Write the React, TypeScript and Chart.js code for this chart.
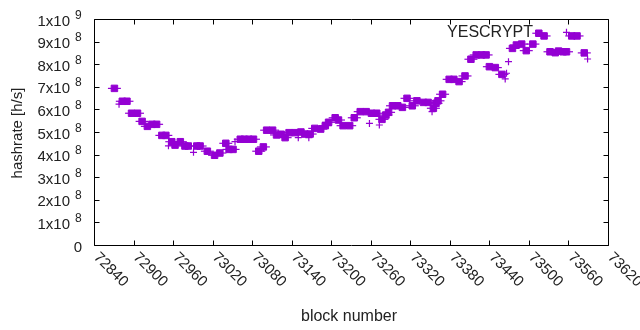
import React, { useEffect, useRef } from 'react';
import { Chart, registerables } from 'chart.js';

Chart.register(...registerables);

// ---- data ----
const squareBlocks = [
  72871, 72883, 72890, 72897, 72906, 72913, 72921, 72928, 72935, 72943,
  72949, 72958, 72963, 72971, 72978, 72983, 72996, 73001, 73012, 73023,
  73031, 73040, 73045, 73051, 73062, 73068, 73075, 73082, 73090, 73097,
  73102, 73111, 73117, 73124, 73130, 73136, 73145, 73154, 73160, 73168,
  73175, 73184, 73191, 73196, 73206, 73211, 73218, 73228, 73235, 73244,
  73253, 73261, 73269, 73277, 73283, 73287, 73293, 73301, 73308, 73315,
  73323, 73330, 73340, 73347, 73355, 73359, 73362, 73369, 73379, 73386,
  73394, 73403, 73412, 73420, 73428, 73435, 73440, 73449, 73459, 73475,
  73481, 73489, 73496, 73506, 73515, 73523, 73532, 73540, 73545, 73552,
  73557, 73565, 73573, 73584,
];
const squareRates = [
  6.93, 6.36, 6.36, 5.83, 5.83, 5.47, 5.25, 5.34, 5.34, 4.85,
  4.85, 4.57, 4.42, 4.57, 4.38, 4.38, 4.38, 4.38, 4.15, 3.97,
  4.07, 4.50, 4.23, 4.23, 4.68, 4.68, 4.68, 4.68, 4.15, 4.34,
  5.08, 5.08, 4.87, 4.90, 4.75, 4.97, 4.97, 5.00, 4.91, 4.91,
  5.16, 5.13, 5.28, 5.43, 5.63, 5.53, 5.28, 5.28, 5.63, 5.90,
  5.90, 5.83, 5.83, 5.56, 5.75, 5.87, 6.16, 6.16, 6.09, 6.49,
  6.16, 6.38, 6.31, 6.31, 6.05, 6.27, 6.38, 6.67, 7.33, 7.33,
  7.23, 7.48, 8.22, 8.41, 8.41, 8.41, 7.89, 7.85, 7.55, 8.70,
  8.85, 8.89, 8.60, 8.89, 9.37, 9.25, 8.55, 8.51, 8.58, 8.55,
  8.55, 9.25, 9.25, 8.50,
].map((v) => v * 1e8);

const plusBlocks = [
  72878, 72953, 72991, 73054, 73097, 73150, 73166, 73258, 73273, 73353,
  73464, 73466, 73469, 73557, 73589,
];
const plusRates = [
  6.23, 4.39, 4.10, 4.57, 4.28, 4.75, 4.75, 5.38, 5.31, 5.90,
  7.35, 7.60, 8.11, 9.41, 8.23,
].map((v) => v * 1e8);

const xTicks = [72840, 72900, 72960, 73020, 73080, 73140, 73200, 73260, 73320, 73380, 73440, 73500, 73560, 73620];
const yTicks = [0, 1e8, 2e8, 3e8, 4e8, 5e8, 6e8, 7e8, 8e8, 9e8, 1e9];

const seriesName = 'YESCRYPT';
const xTitle = 'block number';
const yTitle = 'hashrate [h/s]';
const COLOR = '#9400d3';
const FONT = "'Liberation Sans', Arial, sans-serif";

function toPoints(xs: number[], ys: number[]) {
  return xs.map((x, i) => ({ x, y: ys[i] }));
}

const framePlugin = {
  id: 'gnuplotFrame',
  afterDraw(chart: any) {
    const ctx = chart.ctx as CanvasRenderingContext2D;
    const area = chart.chartArea;
    const xs = chart.scales.x;
    const ys = chart.scales.y;
    const L = Math.round(area.left) + 0.5;
    const R = Math.round(area.right) + 0.5;
    const T = Math.round(area.top) + 0.5;
    const B = Math.round(area.bottom) + 0.5;
    ctx.save();
    ctx.strokeStyle = '#000';
    ctx.lineWidth = 1;
    ctx.beginPath();
    ctx.rect(L, T, R - L, B - T);
    ctx.stroke();
    const tl = 5;
    ctx.beginPath();
    xTicks.forEach((t) => {
      const px = Math.round(xs.getPixelForValue(t)) + 0.5;
      ctx.moveTo(px, B); ctx.lineTo(px, B - tl);
      ctx.moveTo(px, T); ctx.lineTo(px, T + tl);
    });
    yTicks.forEach((t) => {
      const py = Math.round(ys.getPixelForValue(t)) + 0.5;
      ctx.moveTo(L, py); ctx.lineTo(L + tl, py);
      ctx.moveTo(R, py); ctx.lineTo(R - tl, py);
    });
    ctx.stroke();

    ctx.fillStyle = '#222';
    // y tick labels
    yTicks.forEach((t) => {
      const py = ys.getPixelForValue(t);
      ctx.textBaseline = 'alphabetic';
      if (t === 0) {
        ctx.font = `15px ${FONT}`;
        ctx.textAlign = 'right';
        ctx.fillText('0', 82, py + 6.5);
        return;
      }
      const exp = Math.floor(Math.log10(t) + 1e-9);
      const mant = Math.round(t / Math.pow(10, exp));
      ctx.font = `15px ${FONT}`;
      ctx.textAlign = 'right';
      ctx.fillText(`${mant}x10`, 70, py + 6.5);
      ctx.font = `12px ${FONT}`;
      ctx.textAlign = 'left';
      ctx.fillText(`${exp}`, 75, py - 0.5);
    });
    // x tick labels (rotated)
    ctx.font = `15px ${FONT}`;
    xTicks.forEach((t) => {
      const px = xs.getPixelForValue(t);
      ctx.save();
      ctx.translate(px + 2, 255);
      ctx.rotate(Math.PI / 4);
      ctx.textAlign = 'left';
      ctx.textBaseline = 'middle';
      ctx.fillText(String(t), 0, 0);
      ctx.restore();
    });
    // titles
    ctx.font = `16px ${FONT}`;
    ctx.textAlign = 'center';
    ctx.textBaseline = 'alphabetic';
    ctx.fillText(xTitle, 349, 321);
    ctx.save();
    ctx.font = `15px ${FONT}`;
    ctx.translate(22, 133);
    ctx.rotate(-Math.PI / 2);
    ctx.fillText(yTitle, 0, 0);
    ctx.restore();
    // key
    ctx.font = `16px ${FONT}`;
    ctx.textAlign = 'right';
    ctx.fillText(seriesName, 533, 37);
    ctx.restore();
  },
};

export default function App() {
  const ref = useRef<HTMLCanvasElement | null>(null);
  useEffect(() => {
    if (!ref.current) return;
    const squares = toPoints(squareBlocks, squareRates);
    const chart = new Chart(ref.current, {
      type: 'scatter',
      data: {
        datasets: [
          {
            label: seriesName,
            data: squares,
            pointStyle: 'rect',
            pointRadius: 4.6,
            backgroundColor: COLOR,
            borderColor: COLOR,
            borderWidth: 1,
          },
          {
            label: seriesName + ' range',
            data: squares,
            pointStyle: 'line',
            pointRadius: 6.5,
            backgroundColor: COLOR,
            borderColor: COLOR,
            borderWidth: 1.2,
          },
          {
            label: seriesName + ' samples',
            data: toPoints(plusBlocks, plusRates),
            pointStyle: 'cross',
            pointRadius: 3.5,
            backgroundColor: COLOR,
            borderColor: COLOR,
            borderWidth: 1.2,
          },
        ],
      },
      options: {
        animation: false,
        responsive: false,
        devicePixelRatio: 1,
        layout: { padding: { left: 94, right: 32, top: 19, bottom: 85 } },
        plugins: { legend: { display: false }, tooltip: { enabled: false } },
        scales: {
          x: { type: 'linear', min: 72840, max: 73620, display: false },
          y: { type: 'linear', min: 0, max: 1e9, display: false },
        },
      },
      plugins: [framePlugin],
    });
    return () => chart.destroy();
  }, []);
  return (
    <div style={{ position: 'fixed', left: 0, top: 0, width: 640, height: 330, background: '#fff' }}>
      <canvas ref={ref} width={640} height={330} />
    </div>
  );
}
